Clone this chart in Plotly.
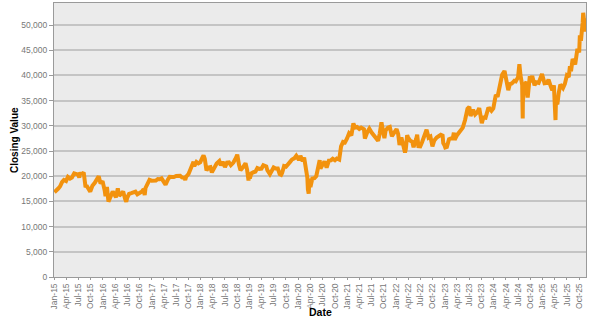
import plotly.graph_objects as go

dates = [
 "2015-01-05","2015-01-15","2015-02-02","2015-02-16","2015-03-02","2015-03-16","2015-04-01","2015-04-15","2015-05-01","2015-05-15",
 "2015-06-01","2015-06-15","2015-07-01","2015-07-09","2015-07-15","2015-08-03","2015-08-11","2015-08-25","2015-09-01","2015-09-29",
 "2015-10-15","2015-11-02","2015-11-16","2015-12-01","2015-12-15","2015-12-30",
 "2016-01-15","2016-01-21","2016-02-01","2016-02-12","2016-03-01","2016-03-15","2016-04-01","2016-04-08","2016-04-22","2016-05-02",
 "2016-05-16","2016-06-01","2016-06-16","2016-06-24","2016-07-01","2016-07-15","2016-08-01","2016-08-15","2016-09-01","2016-09-15",
 "2016-10-03","2016-10-17","2016-11-01","2016-11-09","2016-11-15","2016-12-01","2016-12-15","2016-12-30",
 "2017-01-16","2017-02-01","2017-02-15","2017-03-01","2017-03-15","2017-04-03","2017-04-14","2017-05-01","2017-05-15","2017-06-01",
 "2017-06-15","2017-07-03","2017-07-18","2017-08-01","2017-08-15","2017-09-01","2017-09-08","2017-09-15","2017-10-02","2017-10-16",
 "2017-11-01","2017-11-09","2017-11-15","2017-12-01","2017-12-15","2017-12-29",
 "2018-01-15","2018-01-23","2018-02-01","2018-02-14","2018-03-01","2018-03-15","2018-03-26","2018-04-16","2018-05-01","2018-05-21",
 "2018-06-01","2018-06-15","2018-07-02","2018-07-17","2018-08-01","2018-08-15","2018-09-03","2018-09-18","2018-10-02","2018-10-15",
 "2018-10-26","2018-11-15","2018-12-03","2018-12-14","2018-12-25","2018-12-28",
 "2019-01-04","2019-01-15","2019-02-01","2019-02-15","2019-03-01","2019-03-15","2019-04-01","2019-04-15","2019-05-07","2019-05-15",
 "2019-06-03","2019-06-17","2019-07-01","2019-07-16","2019-08-01","2019-08-15","2019-08-26","2019-09-02","2019-09-17","2019-10-01",
 "2019-10-15","2019-11-01","2019-11-15","2019-12-02","2019-12-17","2019-12-30",
 "2020-01-06","2020-01-17","2020-02-03","2020-02-14","2020-02-28","2020-03-09","2020-03-13","2020-03-19","2020-03-25","2020-04-01",
 "2020-04-15","2020-05-01","2020-05-15","2020-06-01","2020-06-09","2020-06-15","2020-07-01","2020-07-15","2020-07-31","2020-08-17",
 "2020-09-01","2020-09-15","2020-10-01","2020-10-15","2020-11-02","2020-11-16","2020-12-01","2020-12-15","2020-12-30",
 "2021-01-15","2021-02-01","2021-02-16","2021-03-01","2021-03-15","2021-04-01","2021-04-15","2021-05-06","2021-05-13","2021-06-01",
 "2021-06-15","2021-07-01","2021-07-15","2021-08-02","2021-08-20","2021-09-01","2021-09-14","2021-10-06","2021-10-15","2021-11-01",
 "2021-11-15","2021-12-01","2021-12-15","2021-12-30",
 "2022-01-05","2022-01-17","2022-01-27","2022-02-10","2022-02-24","2022-03-09","2022-03-15","2022-03-25","2022-04-01","2022-04-15",
 "2022-05-02","2022-05-12","2022-06-01","2022-06-08","2022-06-17","2022-07-01","2022-07-15","2022-08-01","2022-08-17","2022-09-01",
 "2022-09-15","2022-09-30","2022-10-14","2022-11-01","2022-11-15","2022-12-01","2022-12-15","2022-12-20","2022-12-30",
 "2023-01-04","2023-01-16","2023-02-01","2023-02-15","2023-03-01","2023-03-09","2023-03-15","2023-04-03","2023-04-14","2023-05-01",
 "2023-05-15","2023-06-01","2023-06-19","2023-07-03","2023-07-12","2023-07-31","2023-08-15","2023-09-01","2023-09-15","2023-10-04",
 "2023-10-16","2023-11-01","2023-11-20","2023-12-01","2023-12-15","2023-12-29",
 "2024-01-15","2024-02-01","2024-02-22","2024-03-04","2024-03-22","2024-04-01","2024-04-19","2024-05-01","2024-05-15","2024-06-03",
 "2024-06-14","2024-07-01","2024-07-11","2024-07-19","2024-08-01","2024-08-02","2024-08-05","2024-08-06","2024-08-16","2024-09-02",
 "2024-09-11","2024-09-27","2024-10-01","2024-10-15","2024-11-01","2024-11-15","2024-12-02","2024-12-16","2024-12-27",
 "2025-01-06","2025-01-15","2025-02-03","2025-02-14","2025-03-03","2025-03-14","2025-03-26","2025-04-01","2025-04-04","2025-04-07",
 "2025-04-10","2025-04-21","2025-05-01","2025-05-13","2025-06-02","2025-06-16","2025-07-01","2025-07-15","2025-07-24","2025-08-01",
 "2025-08-13","2025-09-01","2025-09-18","2025-10-01","2025-10-06","2025-10-14","2025-10-27","2025-10-31","2025-11-04","2025-11-05",
 "2025-11-13","2025-11-18","2025-11-20",
]

closing = [
 17408,17108,17558,18004,18815,19246,19035,19870,19531,19732,
 20570,20387,20329,19737,20463,20548,20720,17806,18166,16931,
 18097,18683,19393,20012,18565,19034,
 17147,16017,17865,14953,16085,16974,16164,15821,17572,16147,
 16466,16955,15434,14952,15682,16497,16635,16869,16926,16405,
 16598,16900,17442,16251,17668,18513,19273,19114,
 19095,19148,19437,19393,19577,18983,18335,19310,19869,19860,
 19831,20055,20000,20080,19753,19691,19275,19910,20400,21255,
 22420,22868,22028,22819,22553,22765,
 23714,24124,23486,21154,21724,21804,20766,21835,22508,23002,
 22171,22851,21811,22697,22746,22204,22707,23420,24270,22271,
 21184,21804,22574,21374,19155,20015,
 19561,20555,20788,20900,21602,21451,21509,22169,21923,21189,
 20410,21124,21730,21535,21540,20405,20261,20620,22001,21885,
 22207,22851,23303,23529,24066,23657,
 23204,24041,22971,23688,21142,19698,17431,16552,19546,17819,
 19550,19619,20037,22062,23178,21530,22121,22945,21710,23096,
 23139,23455,23185,23507,23295,25907,26787,26687,27444,
 28519,28091,30467,29663,29766,29388,29643,29331,27448,28814,
 29441,28707,28279,27781,27013,28451,30670,27528,29068,29647,
 29776,27935,28459,28792,
 29332,28333,26170,27696,25971,24717,25346,28149,27665,27093,
 26819,25748,27457,28234,25963,25935,26788,27993,29222,27661,
 27875,25937,27090,27678,27990,28226,28051,26568,26094,
 25716,25822,27346,27501,27516,28623,27229,28188,28493,29123,
 29626,31148,33370,33753,31943,33172,32238,32710,33533,30526,
 31659,31601,33388,33431,32970,33464,
 35901,36011,39098,40109,40888,39803,37068,38274,38385,38923,
 38814,39631,42224,40063,38126,35909,31458,34675,38062,38700,
 35620,39830,38651,39910,38054,38642,38513,39457,40281,
 39307,38444,38520,39149,37785,37053,38027,35624,33780,31136,
 34609,34280,36452,38183,37470,38311,39986,39679,41826,40800,
 43275,42188,45303,44550,47944,46847,50512,52411,51497,50212,
 51281,48702,49824,
]

y_ticks = [0, 5000, 10000, 15000, 20000, 25000, 30000, 35000, 40000, 45000, 50000]
x_title = "Date"
y_title = "Closing Value"

FONT = "Liberation Sans, Arial, sans-serif"

fig = go.Figure(go.Scatter(
    x=dates, y=closing, mode="lines",
    line=dict(color="#F2920E", width=4),
    hoverinfo="skip",
))

tickfont = dict(family=FONT, size=8.5, color="#777777")

fig.update_layout(
    width=590, height=322,
    margin=dict(l=54, r=4, t=3, b=45),
    paper_bgcolor="white",
    plot_bgcolor="#EBEBEB",
    showlegend=False,
    font=dict(family=FONT),
    annotations=[
        dict(text="<b>" + x_title + "</b>", xref="paper", yref="paper",
             x=0.5, y=-35 / 274, xanchor="center", yanchor="middle",
             showarrow=False, font=dict(family=FONT, size=10.5, color="black")),
        dict(text="<b>" + y_title + "</b>", xref="paper", yref="paper",
             x=(14 - 54) / 532, y=0.5, xanchor="center", yanchor="middle",
             textangle=-90, showarrow=False,
             font=dict(family=FONT, size=10, color="black")),
    ],
)
fig.update_xaxes(
    range=["2015-01-01", "2025-11-21"],
    dtick="M3", tick0="2015-01-01", tickformat="%b-%y", tickangle=-90,
    tickfont=tickfont, showgrid=False,
    showline=True, linecolor="#9A9A9A", linewidth=1, mirror=True,
    ticks="outside", ticklen=2, tickcolor="#9A9A9A", automargin=False,
)
fig.update_yaxes(
    range=[0, 54365], tickvals=y_ticks, tickformat=",",
    tickfont=tickfont,
    showgrid=True, gridcolor="#C4C4C4", gridwidth=2,
    showline=True, linecolor="#9A9A9A", linewidth=1, mirror=True,
    zeroline=False, ticks="outside", ticklen=4, tickcolor="#9A9A9A",
    automargin=False,
)

fig.write_html("out.html")
